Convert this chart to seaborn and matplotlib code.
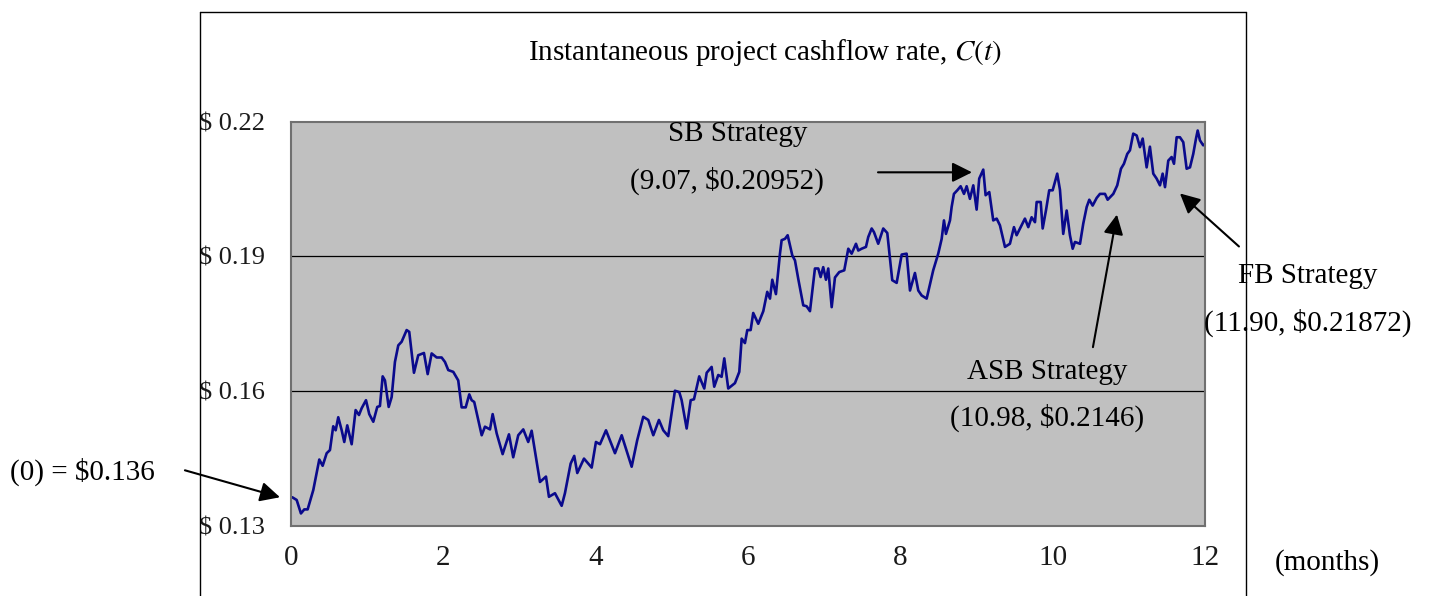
import seaborn as sns
import matplotlib.pyplot as plt
from matplotlib.lines import Line2D

# cashflow rate path (months, $)
months = [0.017, 0.075, 0.131, 0.175, 0.219, 0.293, 0.372, 0.416, 0.469, 0.512,
          0.555, 0.587, 0.621, 0.666, 0.700, 0.739, 0.797, 0.849, 0.893, 0.928,
          0.985, 1.028, 1.081, 1.133, 1.168, 1.204, 1.234, 1.283, 1.322, 1.365,
          1.409, 1.453, 1.519, 1.553, 1.615, 1.671, 1.746, 1.795, 1.847, 1.913,
          1.978, 2.022, 2.065, 2.131, 2.196, 2.241, 2.294, 2.341, 2.372, 2.406,
          2.504, 2.547, 2.613, 2.648, 2.701, 2.779, 2.862, 2.918, 2.984, 3.050,
          3.115, 3.160, 3.269, 3.348, 3.387, 3.466, 3.554, 3.597, 3.672, 3.719,
          3.759, 3.847, 3.948, 4.004, 4.057, 4.136, 4.254, 4.342, 4.473, 4.546,
          4.625, 4.691, 4.757, 4.831, 4.888, 4.953, 5.041, 5.098, 5.129, 5.195,
          5.248, 5.291, 5.360, 5.426, 5.458, 5.523, 5.557, 5.610, 5.654, 5.689,
          5.741, 5.829, 5.886, 5.917, 5.960, 5.991, 6.035, 6.069, 6.135, 6.201,
          6.253, 6.289, 6.319, 6.367, 6.420, 6.442, 6.486, 6.521, 6.582, 6.617,
          6.660, 6.726, 6.770, 6.814, 6.879, 6.923, 6.954, 6.988, 7.024, 7.054,
          7.099, 7.142, 7.198, 7.264, 7.317, 7.361, 7.418, 7.448, 7.492, 7.549,
          7.579, 7.624, 7.654, 7.710, 7.776, 7.829, 7.894, 7.952, 8.018, 8.083,
          8.127, 8.192, 8.236, 8.280, 8.346, 8.432, 8.498, 8.543, 8.573, 8.599,
          8.652, 8.674, 8.704, 8.748, 8.792, 8.836, 8.871, 8.914, 8.958, 9.002,
          9.036, 9.089, 9.120, 9.168, 9.220, 9.265, 9.308, 9.374, 9.439, 9.492,
          9.527, 9.571, 9.636, 9.680, 9.724, 9.768, 9.790, 9.843, 9.869, 9.912,
          9.955, 10.000, 10.060, 10.096, 10.139, 10.184, 10.227, 10.263, 10.293, 10.359,
          10.402, 10.447, 10.481, 10.525, 10.578, 10.621, 10.687, 10.722, 10.762, 10.796,
          10.848, 10.897, 10.936, 10.980, 11.015, 11.058, 11.103, 11.146, 11.182, 11.234,
          11.277, 11.321, 11.365, 11.409, 11.444, 11.475, 11.518, 11.562, 11.593, 11.628,
          11.671, 11.715, 11.759, 11.803, 11.846, 11.882, 11.904, 11.934, 11.977, 12.000]

cashflow = [0.1364, 0.1358, 0.1328, 0.1337, 0.1337, 0.1380, 0.1448, 0.1434, 0.1462, 0.1469,
            0.1522, 0.1513, 0.1542, 0.1513, 0.1487, 0.1524, 0.1482, 0.1558, 0.1547, 0.1562,
            0.1580, 0.1549, 0.1532, 0.1565, 0.1567, 0.1633, 0.1624, 0.1565, 0.1587, 0.1665,
            0.1702, 0.1710, 0.1736, 0.1732, 0.1641, 0.1680, 0.1685, 0.1638, 0.1684, 0.1675,
            0.1675, 0.1665, 0.1647, 0.1643, 0.1624, 0.1564, 0.1564, 0.1593, 0.1580, 0.1576,
            0.1502, 0.1521, 0.1515, 0.1549, 0.1506, 0.1460, 0.1504, 0.1453, 0.1502, 0.1515,
            0.1487, 0.1512, 0.1398, 0.1410, 0.1365, 0.1373, 0.1345, 0.1373, 0.1439, 0.1456,
            0.1418, 0.1450, 0.1430, 0.1487, 0.1482, 0.1513, 0.1462, 0.1502, 0.1432, 0.1491,
            0.1543, 0.1536, 0.1502, 0.1536, 0.1513, 0.1500, 0.1601, 0.1598, 0.1580, 0.1517,
            0.1580, 0.1582, 0.1633, 0.1606, 0.1641, 0.1654, 0.1610, 0.1636, 0.1632, 0.1673,
            0.1606, 0.1618, 0.1643, 0.1717, 0.1707, 0.1736, 0.1736, 0.1774, 0.1750, 0.1778,
            0.1821, 0.1806, 0.1848, 0.1816, 0.1906, 0.1936, 0.1939, 0.1947, 0.1902, 0.1891,
            0.1850, 0.1791, 0.1789, 0.1778, 0.1873, 0.1873, 0.1854, 0.1876, 0.1848, 0.1873,
            0.1787, 0.1853, 0.1865, 0.1869, 0.1917, 0.1906, 0.1928, 0.1913, 0.1917, 0.1921,
            0.1943, 0.1962, 0.1954, 0.1928, 0.1962, 0.1952, 0.1847, 0.1841, 0.1904, 0.1906,
            0.1824, 0.1863, 0.1824, 0.1813, 0.1806, 0.1869, 0.1906, 0.1939, 0.1980, 0.1950,
            0.1980, 0.2010, 0.2039, 0.2047, 0.2056, 0.2039, 0.2056, 0.2028, 0.2058, 0.2004,
            0.2073, 0.2093, 0.2036, 0.2043, 0.1980, 0.1984, 0.1969, 0.1921, 0.1928, 0.1965,
            0.1947, 0.1962, 0.1984, 0.1965, 0.1987, 0.1976, 0.2021, 0.2021, 0.1962, 0.2002,
            0.2047, 0.2047, 0.2084, 0.2048, 0.1950, 0.2002, 0.1947, 0.1917, 0.1932, 0.1928,
            0.1973, 0.2010, 0.2026, 0.2013, 0.2030, 0.2039, 0.2039, 0.2026, 0.2033, 0.2039,
            0.2058, 0.2095, 0.2106, 0.2128, 0.2136, 0.2173, 0.2169, 0.2143, 0.2162, 0.2098,
            0.2144, 0.2084, 0.2073, 0.2058, 0.2084, 0.2054, 0.2113, 0.2121, 0.2106, 0.2165,
            0.2165, 0.2154, 0.2095, 0.2098, 0.2128, 0.2162, 0.2180, 0.2158, 0.2147, 0.2150]

x_ticks = [0, 2, 4, 6, 8, 10, 12]
y_ticks = [0.13, 0.16, 0.19, 0.22]
y_labels = ["$ 0.13", "$ 0.16", "$ 0.19", "$ 0.22"]

sns.set_style("white")
plt.rcParams['font.family'] = ['Liberation Serif', 'DejaVu Serif']
plt.rcParams['mathtext.fontset'] = 'stix'
plt.rcParams['text.color'] = 'black'

fig = plt.figure(figsize=(14.34, 5.96), dpi=100)
ax = fig.add_axes([0.2029, 0.1174, 0.6374, 0.6787])
ax.set_facecolor('#c0c0c0')

ax = sns.lineplot(x=months, y=cashflow, ax=ax, color='#0a0a8c', linewidth=1.9)

ax.set_xlim(0, 12)
ax.set_ylim(0.13, 0.22)
ax.set_xticks(x_ticks)
ax.set_xticklabels([str(t) for t in x_ticks])
ax.set_yticks(y_ticks)
ax.set_yticklabels(y_labels)
for g in y_ticks[1:3]:
    ax.axhline(g, color='black', lw=0.9, zorder=1)

ax.tick_params(axis='x', direction='in', length=6, width=1, color='#333333',
               pad=14, labelsize=21, labelcolor='#1a1a1a')
ax.tick_params(axis='y', length=0, pad=19, labelsize=19, labelcolor='#1a1a1a')
for s in ax.spines.values():
    s.set_color('#707070')
    s.set_linewidth(1.5)

fig.text(0.5335, 0.912, "Instantaneous project cashflow rate, $C(t)$",
         ha='center', va='center', fontsize=21)

# chart area frame (bottom cut off)
fig.add_artist(Line2D([0.1395, 0.1395], [0, 0.9799], transform=fig.transFigure, color='black', lw=1))
fig.add_artist(Line2D([0.1395, 0.8689], [0.9799, 0.9799], transform=fig.transFigure, color='black', lw=1))
fig.add_artist(Line2D([0.8689, 0.8689], [0, 0.9799], transform=fig.transFigure, color='black', lw=1))

arrow = dict(arrowstyle='-|>,head_length=0.6,head_width=0.3', color='black',
             lw=1.5, mutation_scale=20, shrinkA=0, shrinkB=0)
fs = 21

ax.text(5.869, 0.2173, "SB Strategy", ha='center', va='center', fontsize=fs)
ax.text(5.724, 0.2069, "(9.07, $0.20952)", ha='center', va='center', fontsize=fs)
ax.annotate("", xy=(8.941, 0.2087), xytext=(7.707, 0.2087), arrowprops=arrow)

ax.text(9.925, 0.1642, "ASB Strategy", ha='center', va='center', fontsize=fs)
ax.text(9.925, 0.1540, "(10.98, $0.2146)", ha='center', va='center', fontsize=fs)
ax.annotate("", xy=(10.844, 0.1993), xytext=(10.529, 0.1698), arrowprops=arrow)

ax.text(13.352, 0.1856, "FB Strategy", ha='center', va='center', fontsize=fs, clip_on=False)
ax.text(13.352, 0.1751, "(11.90, $0.21872)", ha='center', va='center', fontsize=fs, clip_on=False)
ax.annotate("", xy=(11.671, 0.2040), xytext=(12.446, 0.1922), arrowprops=arrow,
            annotation_clip=False)

ax.text(-2.744, 0.1420, "(0) = $0.136", ha='center', va='center', fontsize=fs, clip_on=False)
ax.annotate("", xy=(-0.144, 0.1364), xytext=(-1.392, 0.1424), arrowprops=arrow,
            annotation_clip=False)

ax.text(13.601, 0.1218, "(months)", ha='center', va='center', fontsize=fs, clip_on=False)

fig.savefig("out.png", dpi=100)
